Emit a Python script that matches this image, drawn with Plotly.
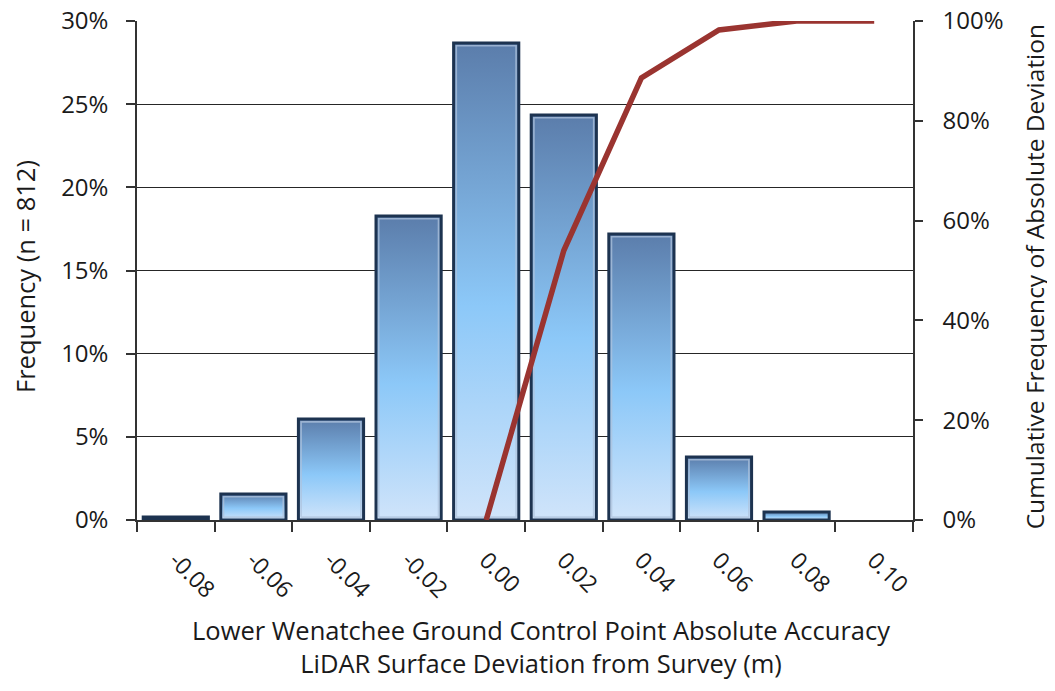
import plotly.graph_objects as go
import numpy as np

categories = ["-0.08", "-0.06", "-0.04", "-0.02", "0.00", "0.02", "0.04", "0.06", "0.08", "0.10"]
frequency = [0.0018, 0.0157, 0.0607, 0.1828, 0.2868, 0.2435, 0.1720, 0.0379, 0.0048, 0.0]
cumulative = [None, None, None, None, 0.0, 0.54, 0.886, 0.982, 1.0, 1.0]
left_ticks = [0, 0.05, 0.10, 0.15, 0.20, 0.25, 0.30]
right_ticks = [0, 0.2, 0.4, 0.6, 0.8, 1.0]

FONT = "Open Sans"
idx = np.arange(len(categories))
bar_w = 0.84
grad = [[0, "#d0e4fa"], [0.45, "#8cc8f8"], [1, "#5b7dab"]]
inset_x = 0.035
inset_y = 0.0017

fig = go.Figure()
for i, v in zip(idx, frequency):
    if v <= 0:
        continue
    x0, x1 = i - bar_w / 2, i + bar_w / 2
    fig.add_trace(go.Scatter(
        x=[x0, x0, x1, x1, x0], y=[0, v, v, 0, 0],
        mode="lines", fill="toself",
        fillgradient=dict(type="vertical", colorscale=grad, start=0, stop=v),
        line=dict(color="#1d3350", width=3),
        showlegend=False, hoverinfo="skip", xaxis="x", yaxis="y",
    ))
    if v > 3 * inset_y:
        xi0, xi1 = x0 + inset_x, x1 - inset_x
        yi0, yi1 = inset_y, v - inset_y
        fig.add_trace(go.Scatter(
            x=[xi0, xi0, xi1, xi1, xi0], y=[yi0, yi1, yi1, yi0, yi0],
            mode="lines", line=dict(color="rgba(175,195,220,0.75)", width=1.6),
            showlegend=False, hoverinfo="skip", xaxis="x", yaxis="y",
        ))

fig.add_trace(go.Scatter(
    x=idx, y=cumulative, mode="lines",
    line=dict(color="#9a3430", width=5.5),
    showlegend=False, xaxis="x", yaxis="y2", connectgaps=False,
))

axis_col = "#333333"
TICK = 24
TITLE = 25.5
fig.update_layout(
    width=1047, height=683,
    margin=dict(l=129, r=142, t=13, b=171),
    paper_bgcolor="white", plot_bgcolor="white",
    font=dict(family=FONT, size=TICK, color="#1a1a1a"),
    xaxis=dict(
        range=[-0.5, len(categories) - 0.5], automargin=False,
        tickmode="array", tickvals=idx, ticktext=categories,
        tickangle=45, ticks="", showgrid=False, zeroline=False,
        showline=True, linecolor=axis_col, linewidth=1.5,
        tickfont=dict(size=TICK - 1), ticklabelstandoff=16,
        ticklabeloverflow="allow",
        minor=dict(tickmode="linear", tick0=-0.5, dtick=1, ticks="outside",
                   ticklen=10, tickwidth=1.5, tickcolor=axis_col, showgrid=False),
    ),
    yaxis=dict(
        range=[0, 0.30], automargin=False,
        tickmode="array", tickvals=left_ticks, tickformat=".0%",
        showgrid=True, gridcolor="#262626", gridwidth=1.2, zeroline=False,
        showline=True, linecolor=axis_col, linewidth=1.5,
        ticks="outside", ticklen=9, tickcolor=axis_col, tickwidth=1.5,
        tickfont=dict(size=TICK), ticklabelstandoff=13,
        ticklabeloverflow="allow",
    ),
    yaxis2=dict(
        range=[0, 1.0], automargin=False,
        tickmode="array", tickvals=right_ticks, tickformat=".0%",
        overlaying="y", side="right", anchor="x",
        showgrid=False, zeroline=False,
        showline=True, linecolor=axis_col, linewidth=1.5,
        ticks="outside", ticklen=8, tickcolor=axis_col, tickwidth=1.5,
        tickfont=dict(size=TICK), ticklabelstandoff=15,
        ticklabeloverflow="allow",
    ),
    annotations=[
        dict(text="Lower Wenatchee Ground Control Point Absolute Accuracy<br>LiDAR Surface Deviation from Survey (m)",
             xref="paper", yref="paper", x=0.5206, y=-0.182, xanchor="center", yanchor="top",
             showarrow=False, font=dict(size=TITLE), align="center"),
        dict(text="Frequency (n = 812)", xref="paper", yref="paper",
             x=-0.1443, y=0.487, textangle=-90, showarrow=False,
             xanchor="center", yanchor="middle", font=dict(size=TITLE)),
        dict(text="Cumulative Frequency of Absolute Deviation", xref="paper", yref="paper",
             x=1.157, y=0.488, textangle=-90, showarrow=False,
             xanchor="center", yanchor="middle", font=dict(size=TITLE - 1)),
    ],
)

fig.write_html("out.html")
